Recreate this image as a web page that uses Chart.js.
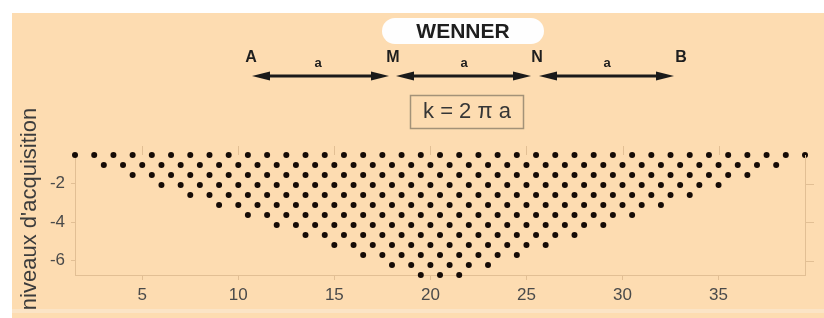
<!DOCTYPE html>
<html>
<head>
<meta charset="utf-8">
<title>WENNER</title>
<script src="https://cdn.jsdelivr.net/npm/chart.js@4/dist/chart.umd.min.js"></script>
<style>
    html, body { margin: 0; padding: 0; background: #ffffff; }
    #wrap { width: 824px; height: 318px; }
</style>
</head>
<body>
<div id="wrap"><canvas id="wennerChart" width="824" height="318"></canvas></div>
<script>
// acquisition levels of the pseudo-section (one row of dots per level)
const levels = [1, 2, 3, 4, 5, 6, 7, 8, 9, 10, 11, 12, 13];
const levelDepth = [-0.519, -1.038, -1.557, -2.076, -2.595, -3.114, -3.633, -4.152, -4.671, -5.19, -5.709, -6.228, -6.747];
const levelFirstX = [1.5, 3, 4.5, 6, 7.5, 9, 10.5, 12, 13.5, 15, 16.5, 18, 19.5];
const levelPointCount = [39, 36, 33, 30, 27, 24, 21, 18, 15, 12, 9, 6, 3];
const electrodeStep = 1;

const xTicks = [5, 10, 15, 20, 25, 30, 35];
const yTicks = [-2, -4, -6];

const FONT = '"Liberation Sans", Arial, sans-serif';
const BG = '#fddcb1';
const AXIS = '#e2bf94';

const points = [];
levels.forEach((lvl, i) => {
    for (let k = 0; k < levelPointCount[i]; k++) {
        points.push({ x: levelFirstX[i] + k * electrodeStep, y: levelDepth[i] });
    }
});

function arrow(ctx, x1, x2, y) {
    const head = 18, half = 4.5;
    ctx.beginPath();
    ctx.moveTo(x1 + head - 2, y);
    ctx.lineTo(x2 - head + 2, y);
    ctx.stroke();
    ctx.beginPath();
    ctx.moveTo(x1, y);
    ctx.lineTo(x1 + head, y - half);
    ctx.lineTo(x1 + head, y + half);
    ctx.closePath();
    ctx.fill();
    ctx.beginPath();
    ctx.moveTo(x2, y);
    ctx.lineTo(x2 - head, y - half);
    ctx.lineTo(x2 - head, y + half);
    ctx.closePath();
    ctx.fill();
}

const decorations = {
    id: 'decorations',
    beforeDraw(chart) {
        const ctx = chart.ctx;
        ctx.save();
        ctx.fillStyle = '#ffffff';
        ctx.fillRect(0, 0, chart.width, chart.height);
        ctx.fillStyle = BG;
        ctx.fillRect(12, 13, chart.width - 12, chart.height - 13);
        ctx.fillStyle = '#fbe4c6';
        ctx.fillRect(12, 309, chart.width - 12, 4);
        ctx.restore();
    },
    afterDraw(chart) {
        const ctx = chart.ctx;
        const xs = chart.scales.x, ys = chart.scales.y;
        const area = chart.chartArea;
        ctx.save();

        // right / top frame with outward ticks
        ctx.strokeStyle = AXIS;
        ctx.lineWidth = 1;
        ctx.beginPath();
        ctx.moveTo(area.right + 0.5, area.top);
        ctx.lineTo(area.right + 0.5, area.bottom);
        xTicks.forEach(v => {
            const px = Math.round(xs.getPixelForValue(v)) + 0.5;
            ctx.moveTo(px, area.top);
            ctx.lineTo(px, area.top - 9);
        });
        yTicks.forEach(v => {
            const py = Math.round(ys.getPixelForValue(v)) + 0.5;
            ctx.moveTo(area.right, py);
            ctx.lineTo(area.right + 9, py);
        });
        ctx.stroke();

        // title pill
        ctx.fillStyle = '#fefefe';
        ctx.beginPath();
        ctx.roundRect(382, 18, 162, 26, 13);
        ctx.fill();
        ctx.fillStyle = '#1e1e1e';
        ctx.font = 'bold 21px ' + FONT;
        ctx.textAlign = 'center';
        ctx.textBaseline = 'middle';
        ctx.fillText('WENNER', 463, 32);

        // electrodes
        ctx.font = 'bold 16px ' + FONT;
        ctx.fillText('A', 251, 58);
        ctx.fillText('M', 393, 58);
        ctx.fillText('N', 537, 58);
        ctx.fillText('B', 681, 58);
        ctx.font = 'bold 13px ' + FONT;
        ctx.fillText('a', 318, 63);
        ctx.fillText('a', 464, 63);
        ctx.fillText('a', 607, 63);

        ctx.strokeStyle = '#1a1a1a';
        ctx.fillStyle = '#1a1a1a';
        ctx.lineWidth = 3;
        arrow(ctx, 252, 389, 76);
        arrow(ctx, 396, 531, 76);
        arrow(ctx, 539, 674, 76);

        // geometric factor box
        ctx.strokeStyle = '#a39278';
        ctx.lineWidth = 1.5;
        ctx.strokeRect(410.5, 95.5, 113, 33);
        ctx.fillStyle = '#363636';
        ctx.font = '22px ' + FONT;
        ctx.fillText('k = 2 \u03c0 a', 467, 112);

        // y axis title
        ctx.translate(30, 209);
        ctx.rotate(-Math.PI / 2);
        ctx.fillStyle = '#3c3c3c';
        ctx.font = '22px ' + FONT;
        ctx.fillText("niveaux d'acquisition", 0, 0);
        ctx.restore();
    },
};

const chart = new Chart(document.getElementById('wennerChart').getContext('2d'), {
    type: 'scatter',
    data: {
        datasets: [{
            label: 'Wenner',
            data: points,
            clip: false,
            pointRadius: 3,
            pointHoverRadius: 3,
            pointBackgroundColor: '#150b06',
            pointBorderWidth: 0,
        }]
    },
    options: {
        responsive: false,
        animation: false,
        events: [],
        layout: {
            padding: { left: 35, right: 19, top: 155, bottom: 12 }
        },
        plugins: {
            legend: { display: false },
            tooltip: { enabled: false },
        },
        scales: {
            x: {
                type: 'linear',
                min: 1.5,
                max: 39.5,
                afterBuildTicks: axis => { axis.ticks = xTicks.map(v => ({ value: v })); },
                afterFit: axis => { axis.height = 31; },
                grid: { drawOnChartArea: false, drawTicks: true, tickLength: 5, color: AXIS },
                border: { display: true, color: AXIS },
                ticks: { color: '#4a4a4a', font: { family: FONT, size: 17 }, padding: 5, maxRotation: 0 },
            },
            y: {
                type: 'linear',
                min: -6.747,
                max: -0.519,
                afterBuildTicks: axis => { axis.ticks = yTicks.map(v => ({ value: v })); },
                afterFit: axis => { axis.width = 40; },
                grid: { drawOnChartArea: false, drawTicks: true, tickLength: 4, color: AXIS },
                border: { display: true, color: AXIS },
                ticks: { color: '#4a4a4a', font: { family: FONT, size: 17 }, padding: 6 },
            }
        }
    },
    plugins: [decorations],
});
</script>
</body>
</html>
